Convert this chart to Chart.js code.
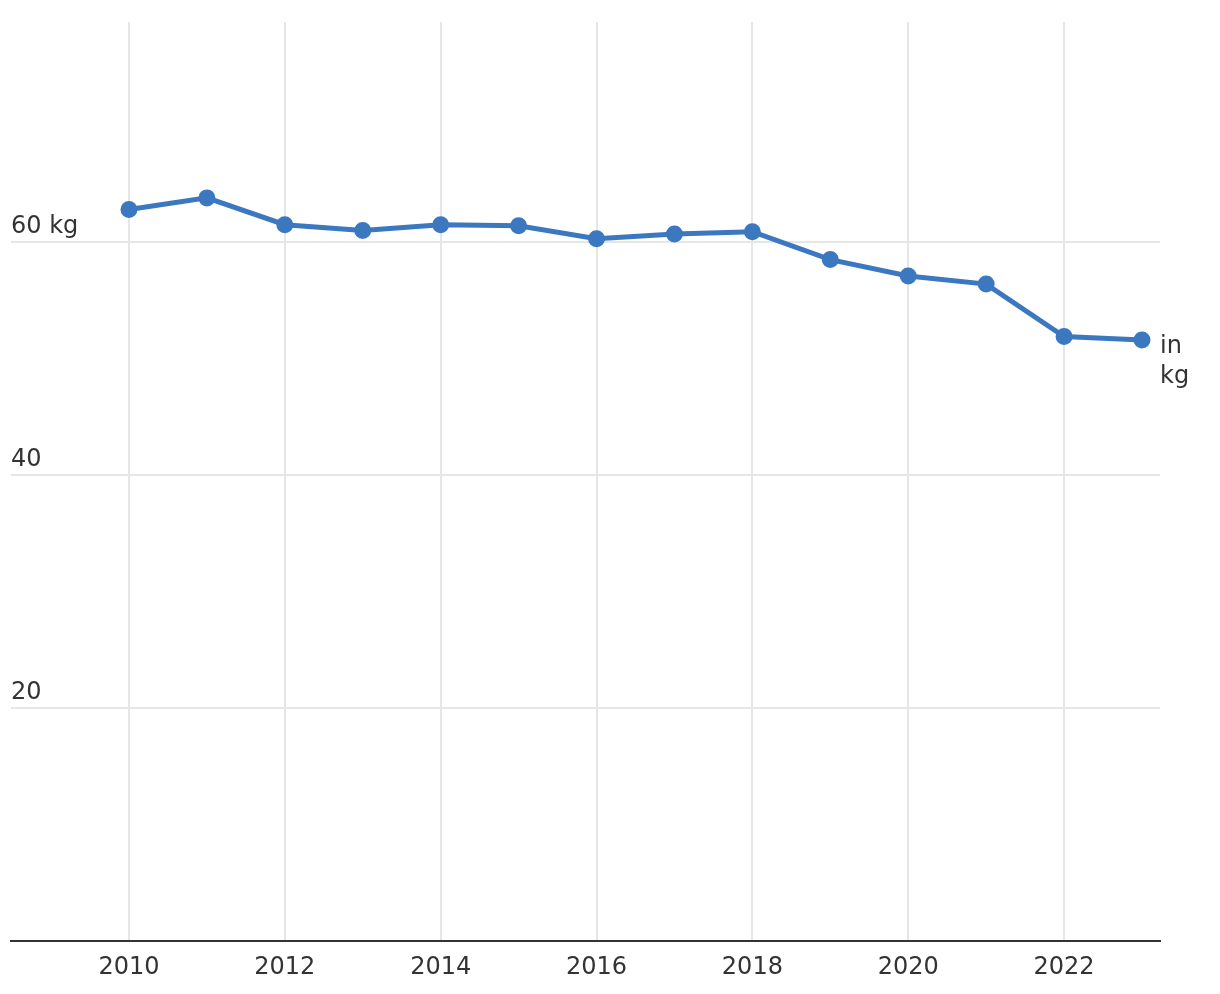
<!DOCTYPE html>
<html>
<head>
<meta charset="utf-8">
<script src="https://cdn.jsdelivr.net/npm/chart.js@4"></script>
<style>
  body { margin: 0; background: #fff; }
</style>
</head>
<body>
<canvas id="kgChart" width="1220" height="994"></canvas>
<script>
const years = [2010, 2011, 2012, 2013, 2014, 2015, 2016, 2017, 2018, 2019, 2020, 2021, 2022, 2023];
const kgValues = [62.8, 63.8, 61.5, 61.0, 61.5, 61.4, 60.3, 60.7, 60.9, 58.5, 57.1, 56.4, 51.9, 51.6];
const xTickValues = [2010, 2012, 2014, 2016, 2018, 2020, 2022];
const yTickValues = [0, 20, 40, 60];
const yTickLabels = ['', '20', '40', '60 kg'];
const unitLabel = ['in', 'kg'];

const FONT = '"DejaVu Sans", Verdana, sans-serif';
const TEXT_COLOR = '#333333';
const LINE_COLOR = '#3b78c0';

// etiquetas del eje y encima de las líneas y la unidad junto al último punto
const labelsPlugin = {
    id: 'labelsPlugin',
    afterDraw(chart) {
        const ctx = chart.ctx;
        const yScale = chart.scales.y;
        ctx.save();
        ctx.font = '24px ' + FONT;
        ctx.fillStyle = TEXT_COLOR;
        ctx.textAlign = 'left';
        ctx.textBaseline = 'alphabetic';
        yTickValues.forEach((v, i) => {
            if (!yTickLabels[i]) return;
            const y = yScale.getPixelForValue(v);
            ctx.fillText(yTickLabels[i], chart.chartArea.left, y - 9);
        });
        const meta = chart.getDatasetMeta(0);
        const last = meta.data[meta.data.length - 1];
        unitLabel.forEach((t, i) => {
            ctx.fillText(t, last.x + 18, last.y + 13 + i * 30);
        });
        ctx.restore();
    }
};

const ct = document.getElementById('kgChart').getContext('2d');
const kgChart = new Chart(ct, {
    type: 'line',
    data: {
        datasets: [{
            data: years.map((y, i) => ({ x: y, y: kgValues[i] })),
            borderColor: LINE_COLOR,
            backgroundColor: LINE_COLOR,
            borderWidth: 5,
            pointRadius: 6,
            pointHoverRadius: 6,
            tension: 0
        }]
    },
    options: {
        responsive: false,
        animation: false,
        layout: { padding: { left: 10, right: 60, top: 22, bottom: 0 } },
        plugins: {
            legend: { display: false },
            tooltip: { enabled: false }
        },
        scales: {
            x: {
                type: 'linear',
                min: 2008.486,
                max: 2023.231,
                afterBuildTicks: (scale) => {
                    scale.ticks = xTickValues.map(v => ({ value: v }));
                },
                afterFit: (scale) => { scale.height = 53; },
                grid: {
                    color: '#e6e6e6',
                    lineWidth: 2,
                    drawTicks: false
                },
                border: { display: true, color: '#333333', width: 2 },
                ticks: {
                    padding: 12,
                    color: TEXT_COLOR,
                    font: { family: FONT, size: 24 },
                    callback: (v) => String(v)
                }
            },
            y: {
                min: 0,
                max: 78.9,
                afterBuildTicks: (scale) => {
                    scale.ticks = yTickValues.map(v => ({ value: v }));
                },
                afterFit: (scale) => { scale.width = 0; },
                grid: {
                    color: (c) => c.tick && c.tick.value === 0 ? 'rgba(0,0,0,0)' : '#e6e6e6',
                    lineWidth: 2,
                    drawTicks: false
                },
                border: { display: false },
                ticks: { display: false }
            }
        }
    },
    plugins: [labelsPlugin]
});
</script>
</body>
</html>
